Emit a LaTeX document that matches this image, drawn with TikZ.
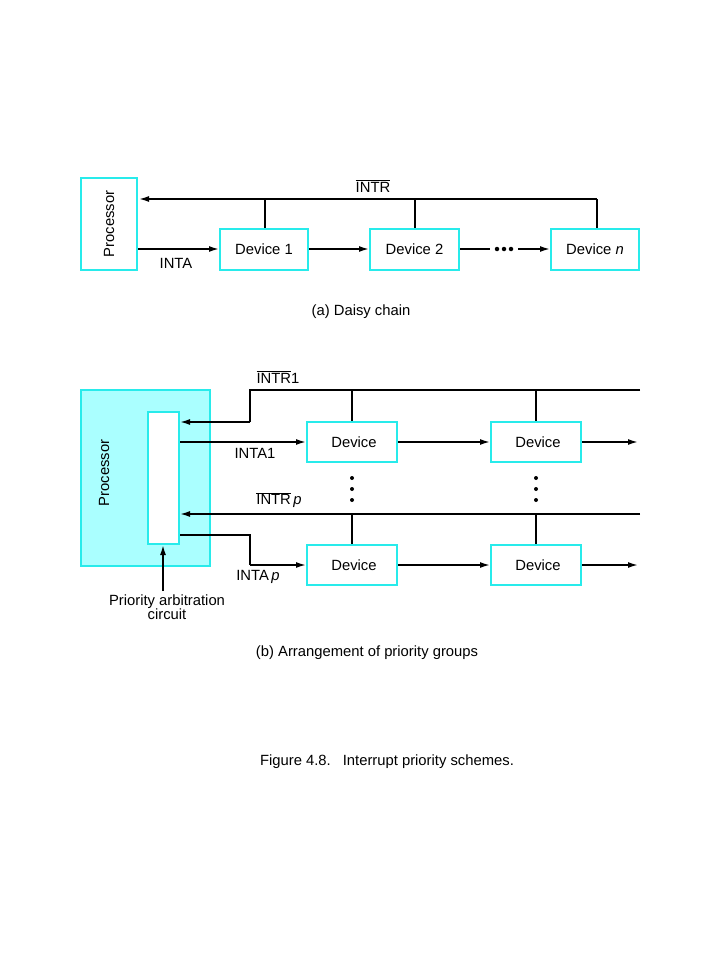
\documentclass[tikz,border=0pt]{standalone}
\usepackage{fontspec}
\setmainfont{Liberation Sans}
\usetikzlibrary{arrows.meta}
\definecolor{cyb}{RGB}{40,235,235}
\definecolor{cyf}{RGB}{170,255,255}
\tikzset{
  box/.style={draw=cyb,line width=2pt,fill=white,inner sep=0pt},
  wire/.style={line width=1.6pt,draw=black},
  arr/.style={wire,-{Latex[length=10pt,width=6pt]}},
  lbl/.style={inner sep=0pt,font=\fontsize{14.8}{16}\selectfont},
  dot/.style={circle,fill=black,inner sep=0pt,minimum size=4pt}
}
\begin{document}
\begin{tikzpicture}[x=1pt,y=-1pt]
\useasboundingbox (0,0) rectangle (720,960);
% ---------- (a) ----------
\node[box,minimum width=56pt,minimum height=92pt] (proc) at (109,224) {};
\node[lbl,rotate=90] (proctxt) at (proc.center) {Processor};
\node[box,minimum width=88pt,minimum height=41pt] (d1) at (264,249.5) {};
\node[lbl] at (d1.center) {Device 1};
\node[box,minimum width=89pt,minimum height=41pt] (d2) at (414.5,249.5) {};
\node[lbl] at (d2.center) {Device 2};
\node[box,minimum width=88pt,minimum height=41pt] (dn) at (595,249.5) {};
\node[lbl] at (dn.center) {Device \textit{n}};
\coordinate (ia) at (139,199);
\coordinate (ib) at (597,199);
\draw[arr] (ib) -- (ia);
\draw[wire] (ib) -- (dn.north -| ib);
\draw[wire] (265,199) -- (d1.north -| 265,0);
\draw[wire] (415,199) -- (d2.north -| 415,0);
\draw[arr] (proc.east |- 0,249) -- (d1.west |- 0,249);
\draw[arr] (d1.east |- 0,249) -- (d2.west |- 0,249);
\coordinate (g1) at (490,249);
\coordinate (g2) at (518,249);
\draw[wire] (d2.east |- 0,249) -- (g1);
\draw[arr] (g2) -- (dn.west |- 0,249);
\node[dot,minimum size=4.5pt] (e1) at (497,249) {};
\node[dot,minimum size=4.5pt] (e2) at (504,249) {};
\node[dot,minimum size=4.5pt] (e3) at (511,249) {};
\node[lbl] (intra) at (176,263) {INTA};
\node[lbl] (intrlbl) at (373,186) {$\overline{\hbox{INTR}}$};
\node[lbl] (capa) at (361,312) {(a) Daisy chain};
% ---------- (b) ----------
\node[draw=cyb,line width=2pt,fill=cyf,inner sep=0pt,minimum width=129pt,minimum height=176pt] (bp) at (145.5,478) {};
\node[lbl,rotate=90] (bptxt) at (104,473) {Processor};
\node[box,minimum width=31pt,minimum height=132pt] (arb) at (163.5,478) {};
% row 1 devices
\node[box,minimum width=90pt,minimum height=40pt] (r1a) at (352,442) {};
\node[lbl] at (354,442) {Device};
\node[box,minimum width=90pt,minimum height=40pt] (r1b) at (536,442) {};
\node[lbl] at (538,442) {Device};
\node[box,minimum width=90pt,minimum height=40pt] (r2a) at (352,565) {};
\node[lbl] at (354,565) {Device};
\node[box,minimum width=90pt,minimum height=40pt] (r2b) at (536,565) {};
\node[lbl] at (538,565) {Device};
% INTR1
\coordinate (t1) at (640,390);
\coordinate (t2) at (250,390);
\coordinate (t3) at (250,422);
\draw[wire] (t1) -- (t2) -- (t3);
\draw[arr] (t3) -- (arb.east |- t3);
\draw[wire] (352,390) -- (r1a.north);
\draw[wire] (536,390) -- (r1b.north);
% INTA1
\draw[arr] (arb.east |- r1a) -- (r1a.west);
\draw[arr] (r1a.east) -- (r1b.west);
\coordinate (o1) at (638,442);
\draw[arr] (r1b.east) -- (o1);
% dots
\foreach \yy [count=\k] in {478,489,500}{
  \node[dot] (da\k) at (352,\yy) {};
  \node[dot] (db\k) at (536,\yy) {};
}
% INTRp
\coordinate (p1) at (640,514);
\draw[arr] (p1) -- (arb.east |- p1);
\draw[wire] (352,514) -- (r2a.north);
\draw[wire] (536,514) -- (r2b.north);
% INTAp
\coordinate (q1) at (250,535);
\coordinate (q2) at (250,565);
\draw[wire] (arb.east |- q1) -- (q1) -- (q2);
\draw[arr] (q2) -- (r2a.west);
\draw[arr] (r2a.east) -- (r2b.west);
\coordinate (o2) at (638,565);
\draw[arr] (r2b.east) -- (o2);
% arbitration arrow
\coordinate (pa) at (163,591);
\draw[arr] (pa) -- (arb.south -| pa);
% labels
\node[lbl] (l1) at (278,377) {$\overline{\hbox{INTR}}$1};
\node[lbl] (l2) at (255,453) {INTA1};
\node[lbl] (l3) at (279,500) {$\overline{\hbox{INTR}}$\,\textit{p}};
\node[lbl] (l4) at (258,577) {INTA\,\textit{p}};
\node[lbl,align=center,font=\fontsize{14.8}{14}\selectfont] (l5) at (167,607) {Priority arbitration\\circuit};
\node[lbl] (capb) at (367,653) {(b) Arrangement of priority groups};
\node[lbl] (fig) at (387,762) {Figure 4.8.\hspace{12pt}Interrupt priority schemes.};
\end{tikzpicture}
\end{document}
